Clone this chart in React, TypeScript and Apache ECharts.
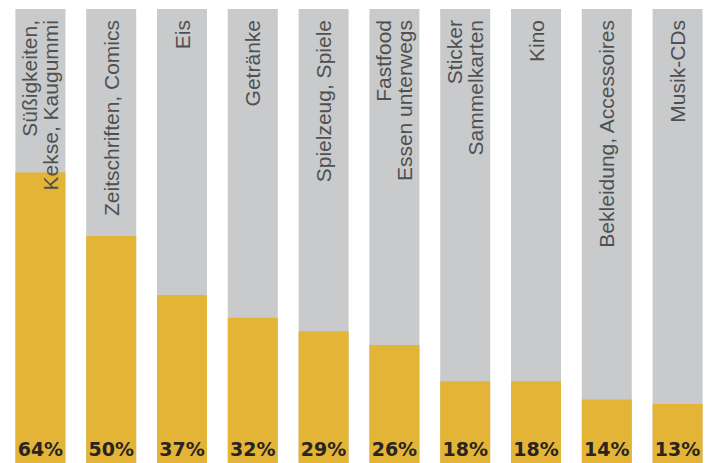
import React, { useEffect, useRef } from "react";
import * as echarts from "echarts";

const categories = [
  "Süßigkeiten,\nKekse, Kaugummi",
  "Zeitschriften, Comics",
  "Eis",
  "Getränke",
  "Spielzeug, Spiele",
  "Fastfood\nEssen unterwegs",
  "Sticker\nSammelkarten",
  "Kino",
  "Bekleidung, Accessoires",
  "Musik-CDs",
];
const shares = [64, 50, 37, 32, 29, 26, 18, 18, 14, 13];
const fullValues = [100, 100, 100, 100, 100, 100, 100, 100, 100, 100];

export default function App() {
  const ref = useRef<HTMLDivElement>(null);
  useEffect(() => {
    if (!ref.current) return;
    const chart = echarts.init(ref.current, null, { renderer: "svg" });
    chart.setOption({
      animation: false,
      grid: { left: 5, top: 9, bottom: 0, width: 712 },
      xAxis: { type: "category", data: categories, show: false },
      yAxis: { type: "value", min: 0, max: 100, show: false },
      series: [
        {
          type: "bar",
          data: fullValues,
          barWidth: 50,
          barGap: "-100%",
          z: 1,
          itemStyle: { color: "#c9cacc" },
          silent: true,
        },
        {
          type: "bar",
          data: shares,
          barWidth: 50,
          barGap: "-100%",
          z: 2,
          itemStyle: { color: "#e3b436" },
          label: {
            show: true,
            position: "insideBottom",
            distance: 5,
            formatter: "{c}%",
            fontFamily: "DejaVu Sans",
            fontWeight: "bold",
            fontSize: 19,
            color: "#2a2420",
          },
        },
        {
          type: "bar",
          data: fullValues,
          barWidth: 50,
          barGap: "-100%",
          z: 3,
          itemStyle: { color: "rgba(0,0,0,0)" },
          label: {
            show: true,
            position: "insideTop",
            distance: 11,
            rotate: 90,
            align: "right",
            verticalAlign: "middle",
            formatter: (p: any) => p.name,
            fontFamily: "Liberation Sans",
            fontSize: 21,
            lineHeight: 21,
            color: "#505050",
          },
        },
      ],
    });
    return () => chart.dispose();
  }, []);
  return (
    <div
      ref={ref}
      style={{ position: "absolute", left: 0, top: 0, width: 713, height: 463, background: "#fff" }}
    />
  );
}
